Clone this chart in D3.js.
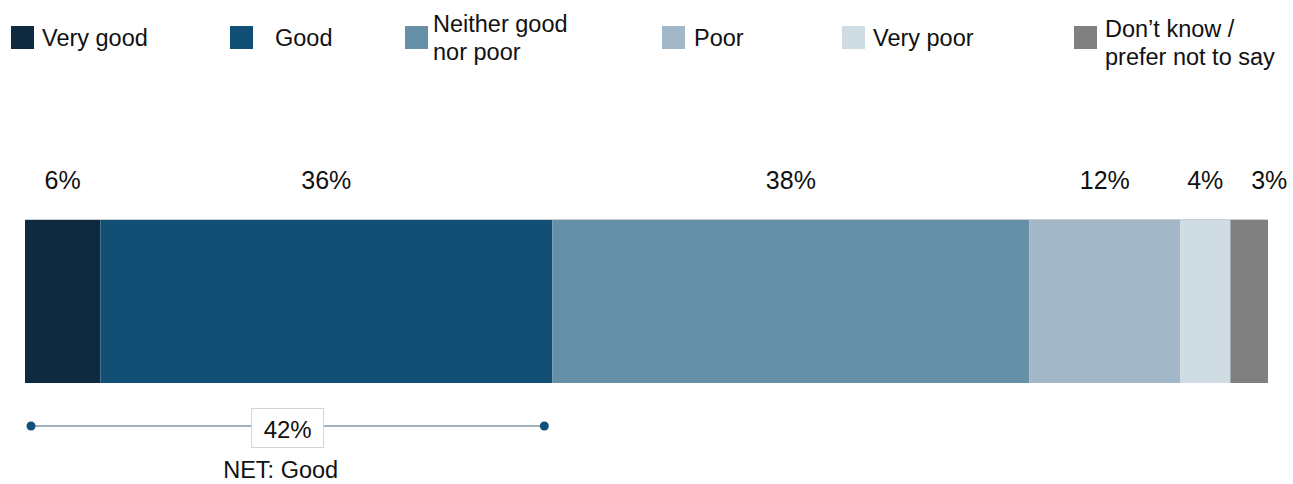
<!DOCTYPE html>
<html>
<head>
<meta charset="utf-8">
<script src="https://cdn.jsdelivr.net/npm/d3@7"></script>
<style>
  html, body { margin: 0; padding: 0; background: #fff; }
  svg { display: block; font-family: "Liberation Sans", Arial, sans-serif; }
</style>
</head>
<body>
<svg id="chart"></svg>
<script>
// --- Data ---
const categories = ["Very good", "Good", "Neither good nor poor", "Poor", "Very poor", "Don\u2019t know / prefer not to say"];
const values = [6, 36, 38, 12, 4, 3];
const colors = ["#0d2a40", "#114f75", "#668fa8", "#a2b8c8", "#cfdce4", "#808080"];
// legend text split into lines
const legendLines = [["Very good"], ["Good"], ["Neither good", "nor poor"], ["Poor"], ["Very poor"], ["Don\u2019t know /", "prefer not to say"]];
const netLabel = "NET: Good";
const netParts = ["Very good", "Good"];

const width = 1293, height = 484;
const svg = d3.select("#chart").attr("width", width).attr("height", height);

// --- Scale ---
const total = d3.sum(values);
const x = d3.scaleLinear().domain([0, total]).range([25, 1268]);
const barTop = 219, barH = 164;

let acc = 0;
const segs = values.map((v, i) => {
  const s = { cat: categories[i], value: v, x0: acc, x1: acc + v, color: colors[i] };
  acc += v;
  return s;
});

// --- Bars ---
svg.append("g").selectAll("rect")
  .data(segs)
  .join("rect")
  .attr("x", d => x(d.x0))
  .attr("y", barTop)
  .attr("width", d => x(d.x1) - x(d.x0))
  .attr("height", barH)
  .attr("fill", d => d.color);

// faint top edge
svg.append("line")
  .attr("x1", x(0)).attr("x2", x(total))
  .attr("y1", barTop + 0.5).attr("y2", barTop + 0.5)
  .attr("stroke", "#c9d0d6").attr("stroke-width", 1);

// --- Value labels (push crowded labels to the right) ---
const minGap = 64;
const labelX = segs.map(d => (x(d.x0) + x(d.x1)) / 2);
for (let i = 1; i < labelX.length; i++) {
  if (labelX[i] - labelX[i - 1] < minGap) labelX[i] = labelX[i - 1] + minGap;
}
svg.append("g").selectAll("text")
  .data(segs)
  .join("text")
  .attr("x", (d, i) => labelX[i])
  .attr("y", 189)
  .attr("text-anchor", "middle")
  .attr("font-size", 25)
  .attr("fill", "#111")
  .text(d => d.value + "%");

// --- Legend ---
const legendX = [11, 230, 405, 662, 842, 1074];
const legendTextX = [42, 275, 433, 694, 873, 1105];
const legend = svg.append("g");
categories.forEach((c, i) => {
  const lines = legendLines[i];
  legend.append("rect")
    .attr("x", legendX[i]).attr("y", 26)
    .attr("width", 23).attr("height", 23)
    .attr("fill", colors[i]);
  const t = legend.append("text")
    .attr("font-size", 23.5)
    .attr("fill", "#111");
  const firstY = lines.length === 1 ? 46 : (i === 5 ? 37 : 32);
  lines.forEach((ln, k) => {
    t.append("tspan")
      .attr("x", legendTextX[i])
      .attr("y", firstY + k * 28)
      .text(ln);
  });
});

// --- NET bracket ---
const netValue = d3.sum(segs.filter(d => netParts.includes(d.cat)), d => d.value);
const nx0 = x(0) + 6, nx1 = x(netValue) - 8, ny = 426;
const netG = svg.append("g");
netG.append("line")
  .attr("x1", nx0).attr("x2", nx1)
  .attr("y1", ny).attr("y2", ny)
  .attr("stroke", "#8497a6").attr("stroke-width", 1.5);
netG.selectAll("circle")
  .data([nx0, nx1])
  .join("circle")
  .attr("cx", d => d).attr("cy", ny).attr("r", 4.5)
  .attr("fill", "#11507a");
const cx = (nx0 + nx1) / 2;
netG.append("rect")
  .attr("x", cx - 36).attr("y", 408.5)
  .attr("width", 72).attr("height", 39)
  .attr("fill", "#fff")
  .attr("stroke", "#d4d4d4");
netG.append("text")
  .attr("x", cx).attr("y", 438)
  .attr("text-anchor", "middle")
  .attr("font-size", 24)
  .attr("fill", "#111")
  .text(netValue + "%");
netG.append("text")
  .attr("x", cx - 7).attr("y", 478)
  .attr("text-anchor", "middle")
  .attr("font-size", 23.5)
  .attr("fill", "#111")
  .text(netLabel);
</script>
</body>
</html>
